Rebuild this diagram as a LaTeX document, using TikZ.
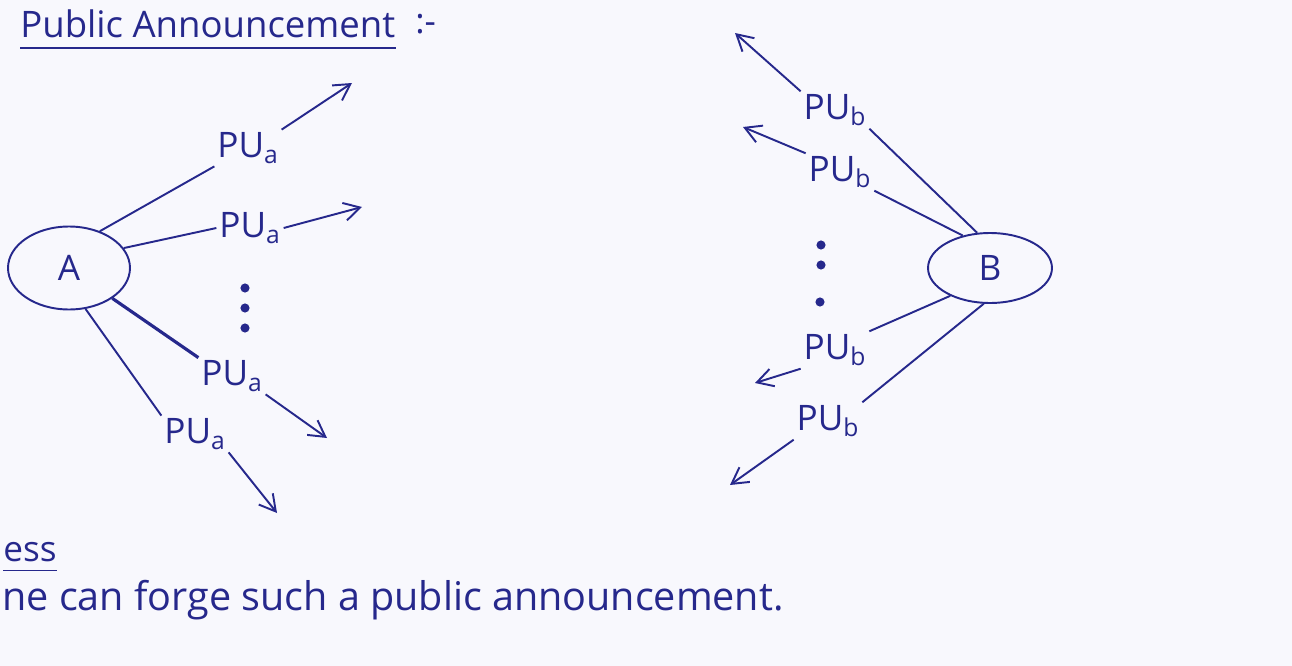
\documentclass[tikz,border=0pt]{standalone}
\usepackage{xcolor}
\usepackage{fontspec}
\setmainfont{Open Sans}
\usetikzlibrary{shapes.geometric,arrows.meta}
\definecolor{ink}{RGB}{38,40,140}
\definecolor{paper}{RGB}{248,248,253}
\tikzset{
	party/.style = {draw=ink, ellipse, line width=1.1pt, inner sep=0pt},
	key/.style = {inner sep=1.5pt},
	wire/.style = {draw=ink, line width=1.1pt},
	send/.style = {wire, -{Straight Barb[length=3.2mm,width=3.6mm]}},
}

\begin{document}
\begin{tikzpicture}[x=0.02cm, y=-0.02cm, every node/.style={text=ink, font=\fontsize{20}{24}\selectfont}]
			\fill[paper] (0,0) rectangle (1292,666);
			\useasboundingbox (0,0) rectangle (1292,666);
			\node[anchor=base west, inner sep=0pt, font=\fontsize{20.8}{24}\selectfont] (title) at (20,37) {Public Announcement};
			\node[anchor=base west, inner sep=0pt] (colon) at (415,33) {:-};
			\node[party, minimum width=2.44cm, minimum height=1.66cm] (A) at (69,268) {A};
			\node[party, minimum width=2.48cm, minimum height=1.40cm] (B) at (990,268) {B};
			\node[key] (a1) at (248,148) {PU\textsubscript{a}};
			\node[key] (a2) at (250,228) {PU\textsubscript{a}};
			\node[key] (a3) at (232,376) {PU\textsubscript{a}};
			\node[key] (a4) at (195,434) {PU\textsubscript{a}};
			\node[key] (b1) at (835,110) {PU\textsubscript{b}};
			\node[key] (b2) at (840,172) {PU\textsubscript{b}};
			\node[key] (b3) at (835,350) {PU\textsubscript{b}};
			\node[key] (b4) at (828,421) {PU\textsubscript{b}};
			\coordinate (ta1) at (352,83);
			\coordinate (ta2) at (362,207);
			\coordinate (ta3) at (327,438);
			\coordinate (ta4) at (277,513);
			\coordinate (tb1) at (735,33);
			\coordinate (tb2) at (743,127);
			\coordinate (tb3) at (755,383);
			\coordinate (tb4) at (730,485);
			\node[anchor=base east, inner sep=0pt] (sec) at (57,561) {ess};
			\node[anchor=base west, inner sep=0pt, font=\fontsize{22.5}{26}\selectfont] (claim) at (2,610) {ne can forge such a public announcement.};
			\draw[wire] ([yshift=-2.2mm]title.base west) -- ([yshift=-2.2mm]title.base east);
			\draw[wire] ([yshift=-1.9mm]sec.base west) -- ([yshift=-1.9mm]sec.base east);
			\fill[ink] (245,288) circle (2.6pt) (245,308) circle (2.6pt) (245,328) circle (2.6pt);
			\fill[ink] (821,245) circle (2.6pt) (821,265) circle (2.6pt) (820,302) circle (2.6pt);
			\draw[wire] (A.50) -- (a1.south west);
			\draw[wire] (A.20) -- (a2.west);
			\draw[wire, line width=1.8pt] (A.-35) -- (a3.north west);
			\draw[wire] (A.-68) -- (a4.north west);
			\draw[send] (a1.north east) -- (ta1);
			\draw[send] (a2.east) -- (ta2);
			\draw[send] (a3.south east) -- (ta3);
			\draw[send] (a4.south east) -- (ta4);
			\draw[wire] (B.110) -- (b1.south east);
			\draw[wire] (B.130) -- (b2.south east);
			\draw[wire] (B.215) -- (b3.north east);
			\draw[wire] (B.-100) -- (b4.north east);
			\draw[send] (b1.north west) -- (tb1);
			\draw[send] (b2.north west) -- (tb2);
			\draw[send] (b3.south west) -- (tb3);
			\draw[send] (b4.south west) -- (tb4);
		\end{tikzpicture}
\end{document}
